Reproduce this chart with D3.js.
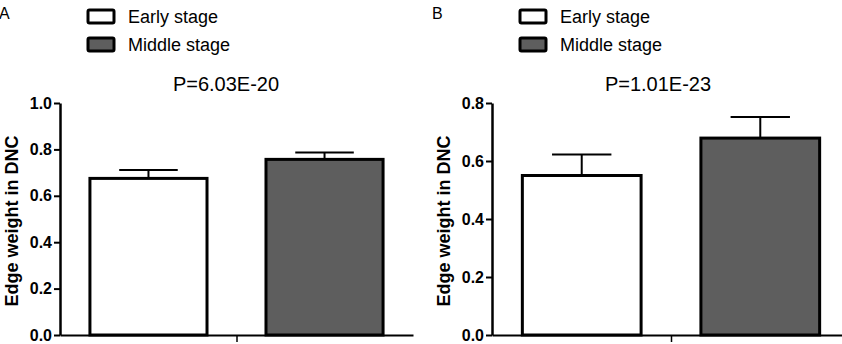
<!DOCTYPE html>
<html>
<head>
<meta charset="utf-8">
<script src="https://cdn.jsdelivr.net/npm/d3@7"></script>
<style>
  body { margin: 0; background: #fff; }
  svg { display: block; font-family: "Liberation Sans", Arial, sans-serif; }
</style>
</head>
<body>
<svg id="chart" width="842" height="344"></svg>
<script>
// data
const groups = ["Early stage", "Middle stage"];
const fills = ["#ffffff", "#5e5e5e"];

const meansA = [0.675, 0.757];
const errA = [0.036, 0.030];
const ticksA = [0, 0.2, 0.4, 0.6, 0.8, 1.0];
const titleA = "P=6.03E-20";

const meansB = [0.550, 0.679];
const errB = [0.072, 0.073];
const ticksB = [0, 0.2, 0.4, 0.6, 0.8];
const titleB = "P=1.01E-23";

const yLabel = "Edge weight in DNC";

const svg = d3.select("#chart");

const panels = [
    { letter: "A", lx: -1, x0: 60, x1: 413, ymax: 1.0, means: meansA, errs: errA, ticks: ticksA, title: titleA },
    { letter: "B", lx: 432, x0: 492, x1: 850, ymax: 0.8, means: meansB, errs: errB, ticks: ticksB, title: titleB }
];

const yBottom = 335;
const yTop = 103;

panels.forEach(p => {
    const g = svg.append("g");

    const x = d3.scaleBand()
        .domain(groups)
        .range([p.x0, p.x1])
        .paddingInner(0.335)
        .paddingOuter(0.17);

    const y = d3.scaleLinear()
        .domain([0, p.ymax])
        .range([yBottom, yTop]);

    // panel letter
    g.append("text")
        .attr("x", p.lx)
        .attr("y", 19)
        .attr("font-size", 16)
        .text(p.letter);

    // legend
    const leg = g.selectAll(".leg")
        .data(groups)
        .enter()
        .append("g")
        .attr("transform", (d, i) => `translate(${p.x0 + 28},${10 + i * 28})`);

    leg.append("rect")
        .attr("width", 26)
        .attr("height", 13)
        .attr("rx", 1.5)
        .attr("fill", (d, i) => fills[i])
        .attr("stroke", "#000")
        .attr("stroke-width", 3);

    leg.append("text")
        .attr("x", 40)
        .attr("y", 12.5)
        .attr("font-size", 18)
        .text(d => d);

    // title
    g.append("text")
        .attr("x", p.x0 + 166)
        .attr("y", 91)
        .attr("text-anchor", "middle")
        .attr("font-size", 20)
        .text(p.title);

    // bars
    g.selectAll(".bar")
        .data(p.means)
        .enter()
        .append("rect")
        .attr("x", (d, i) => x(groups[i]))
        .attr("y", d => y(d))
        .attr("width", x.bandwidth())
        .attr("height", d => y(0) - y(d))
        .attr("fill", (d, i) => fills[i])
        .attr("stroke", "#000")
        .attr("stroke-width", 3);

    // error bars (upper half only)
    const cap = x.bandwidth() * 0.25;
    p.means.forEach((m, i) => {
        const cx = x(groups[i]) + x.bandwidth() / 2;
        g.append("line")
            .attr("x1", cx).attr("x2", cx)
            .attr("y1", y(m)).attr("y2", y(m + p.errs[i]))
            .attr("stroke", "#000").attr("stroke-width", 2);
        g.append("line")
            .attr("x1", cx - cap).attr("x2", cx + cap)
            .attr("y1", y(m + p.errs[i])).attr("y2", y(m + p.errs[i]))
            .attr("stroke", "#000").attr("stroke-width", 2);
    });

    // y axis
    const yAxis = g.append("g")
        .attr("transform", `translate(${p.x0},0)`)
        .call(d3.axisLeft(y)
            .tickValues(p.ticks)
            .tickFormat(d3.format(".1f"))
            .tickSize(6)
            .tickSizeOuter(0)
            .tickPadding(2));

    yAxis.select(".domain").attr("stroke-width", 2.5);
    yAxis.selectAll(".tick line").attr("stroke-width", 2);
    yAxis.selectAll("text")
        .attr("font-size", 16)
        .attr("font-weight", "bold")
        .attr("font-family", "Liberation Sans, Arial, sans-serif")
        .attr("fill", "#000");

    // x axis: one tick in the middle, no label
    const xMid = d3.scaleLinear().domain([0, 1]).range([p.x0, p.x1]);
    const xAxis = g.append("g")
        .attr("transform", `translate(0,${yBottom})`)
        .call(d3.axisBottom(xMid)
            .tickValues([0.5])
            .tickFormat("")
            .tickSize(7)
            .tickSizeOuter(0));
    xAxis.select(".domain").attr("stroke-width", 2);
    xAxis.selectAll(".tick line").attr("stroke-width", 1.5);

    // y label
    g.append("text")
        .attr("transform", `translate(${p.x0 - 42},${(yTop + yBottom) / 2 + 2}) rotate(-90)`)
        .attr("text-anchor", "middle")
        .attr("font-size", 18)
        .attr("font-weight", "bold")
        .text(yLabel);
});
</script>
</body>
</html>
